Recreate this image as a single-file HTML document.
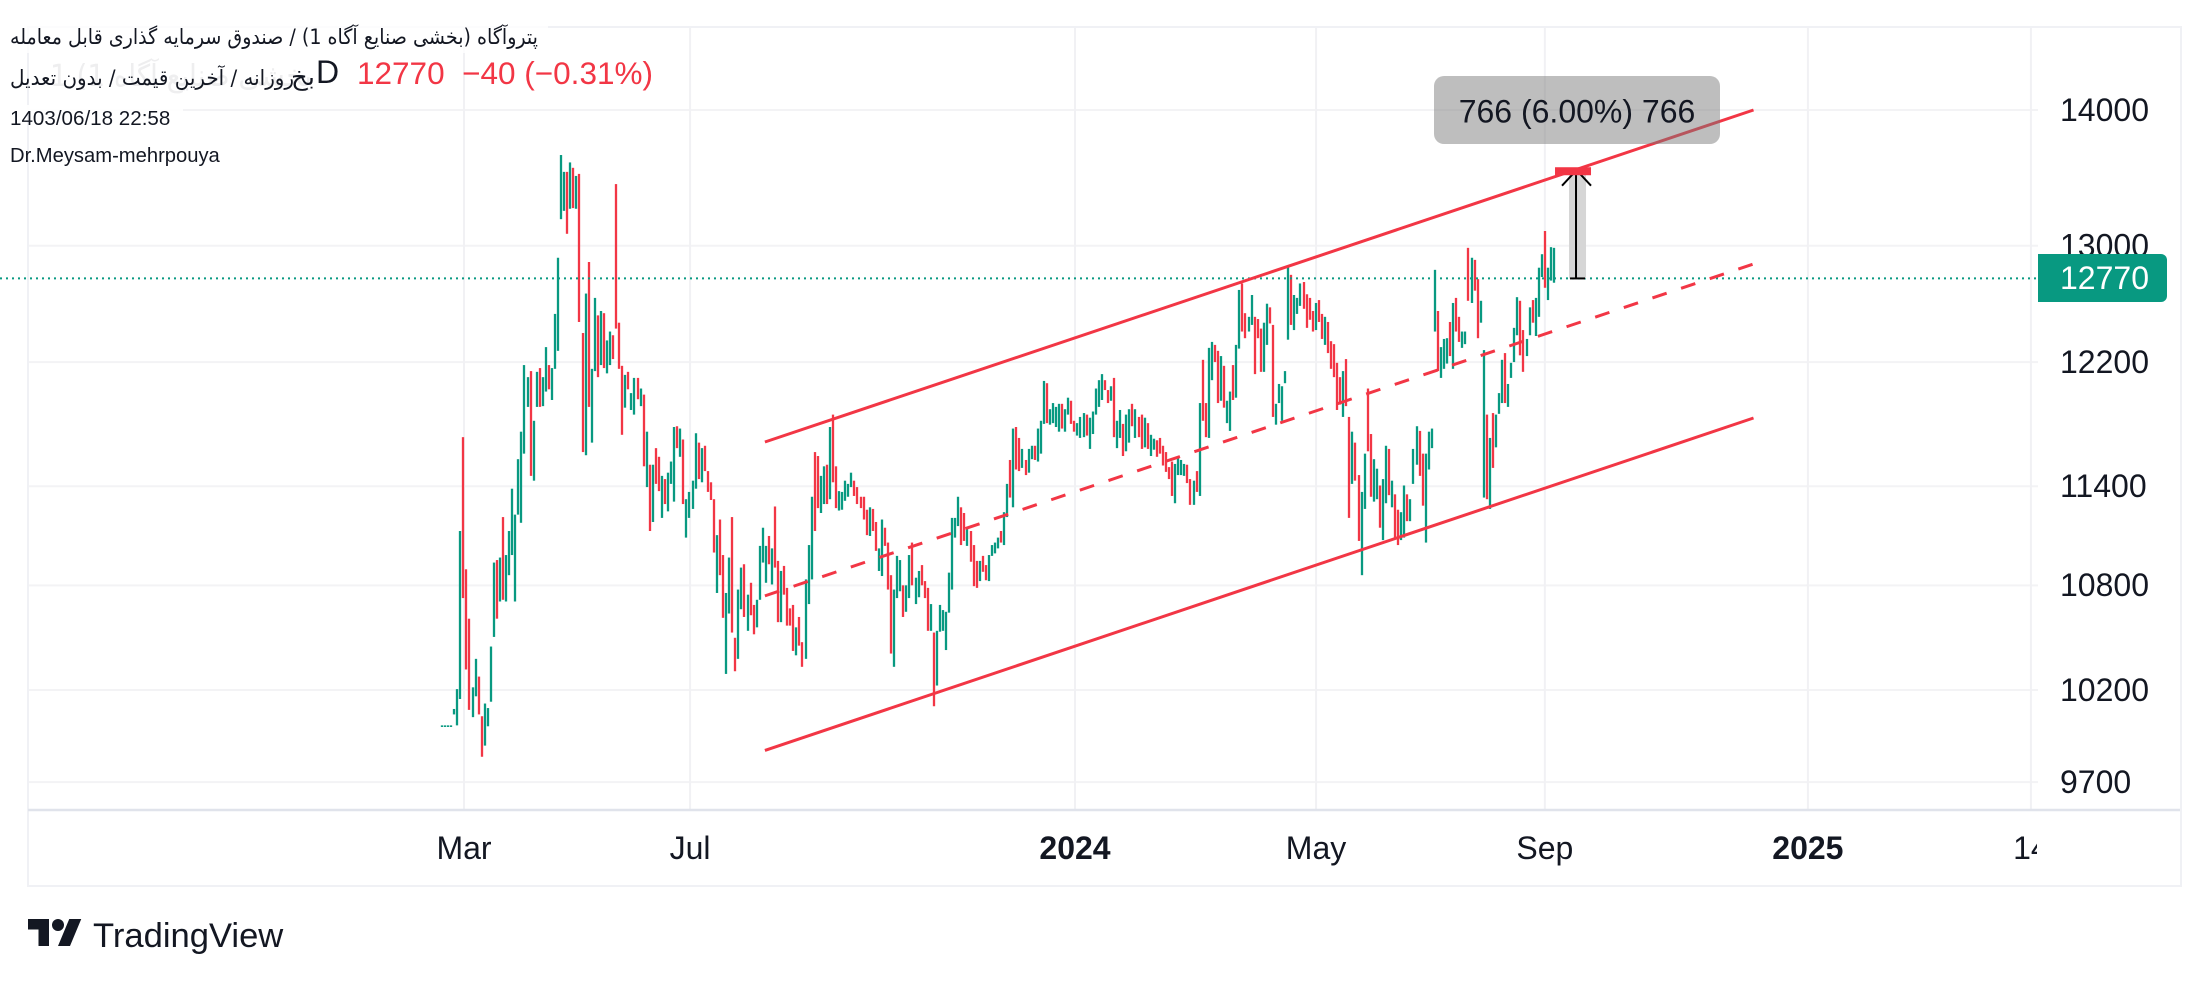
<!DOCTYPE html>
<html lang="en">
<head>
<meta charset="utf-8">
<title>Petroagah daily bar chart</title>
<style>
  html,body{margin:0;padding:0;background:#fff;width:2209px;height:982px;overflow:hidden}
  svg{display:block}
  text{font-family:"Liberation Sans","DejaVu Sans",sans-serif;fill:#131722}
  .fa{font-family:"DejaVu Sans","Liberation Sans",sans-serif}
</style>
</head>
<body>
<svg id="chart" xmlns="http://www.w3.org/2000/svg" width="2209" height="982" viewBox="0 0 2209 982">
  <defs>
    <clipPath id="time-clip"><rect x="28" y="812" width="2009" height="72"/></clipPath>
  </defs>
  <rect x="0" y="0" width="2209" height="982" fill="#ffffff"/>
  <rect x="28" y="27" width="2153" height="859" fill="none" stroke="#f0f1f5" stroke-width="2"/>
  <g id="grid-layer"></g>
  <line x1="28" y1="810" x2="2180" y2="810" stroke="#e0e3eb" stroke-width="2.4"/>
  <g id="bar-layer"></g>
  <g id="last-price-layer"></g>
  <g id="channel-layer"></g>
  <g id="measure-layer"></g>
  <g id="axis-layer"></g>

  <g>
    <rect x="0" y="26" width="548" height="27" fill="#ffffff" opacity="0.8"/>
    <rect x="0" y="105" width="183" height="10" fill="#ffffff" opacity="0.9"/>
    <text class="fa" x="312" y="86" direction="rtl" font-size="30" textLength="262" lengthAdjust="spacingAndGlyphs" style="fill:#eeeeef">بخشی صنایع آگاه 1) 1</text>
    <text class="fa" x="538" y="44" direction="rtl" font-size="21" textLength="528" lengthAdjust="spacingAndGlyphs">پتروآگاه (بخشی صنایع آگاه 1) / صندوق سرمایه گذاری قابل معامله</text>
    <text class="fa" x="315" y="85" direction="rtl" font-size="24" textLength="24" lengthAdjust="spacingAndGlyphs">بخ</text>
    <text class="fa" x="294" y="85" direction="rtl" font-size="21" textLength="284" lengthAdjust="spacingAndGlyphs">روزانه / آخرین قیمت / بدون تعدیل</text>
    <text x="316" y="83" font-size="32">D</text>
    <text x="357" y="84" font-size="31.5" xml:space="preserve" style="fill:#f23645">12770  −40 (−0.31%)</text>
    <text x="10" y="125" font-size="20.6">1403/06/18 22:58</text>
    <text x="10" y="162" font-size="20.2">Dr.Meysam-mehrpouya</text>
  </g>

  <g>
    <g transform="translate(28,913) scale(1.5)" fill="#131722">
      <path d="M14 22H7V11H0V4h14v18zM28 22h-8l7.5-18h8L28 22z"/>
      <circle cx="20" cy="8" r="4"/>
    </g>
    <text x="93" y="947" font-size="34.6">TradingView</text>
  </g>
</svg>

<script>
// Price axis ticks and time axis ticks
const priceTicks = [14000, 13000, 12200, 11400, 10800, 10200, 9700];
const timeLabels = ["Mar", "Jul", "2024", "May", "Sep", "2025", "14"];
const timeTickBars = [7.2, 81.2, 207.2, 286.1, 361, 447.1, 520.1];
const lastPrice = 12770;

// Daily bars, oldest first
const highs = [
10005,10005,10005,10005,10095,10205,11125,11710,10895,10605,
10215,10375,10275,10055,10125,10100,10445,10935,10950,10965,
11210,10980,11125,11385,11225,11570,11745,12180,12100,12140,
11815,12135,12160,12100,12300,12180,12160,12525,12915,13660,
13535,13535,13605,13565,13505,13520,12395,12665,12885,12155,
12635,12515,12545,12530,12345,12405,12380,13445,12465,12175,
12115,12135,11995,12095,12095,12025,11985,11745,11535,11535,
11640,11585,11465,11445,11485,11555,11775,11780,11765,11695,
11320,11365,11435,11735,11675,11640,11655,11495,11425,11320,
11100,11195,10980,10755,10965,11210,10495,10775,10905,10925,
10745,10815,10685,10715,11035,11145,11035,11095,11020,11275,
10945,10885,10915,10785,10665,10685,10555,10615,10470,10835,
11040,11335,11615,11590,11465,11525,11535,11775,11855,11525,
11370,11365,11435,11415,11485,11435,11395,11335,11335,11255,
11270,11260,11180,11020,11195,11145,11055,10860,10775,10975,
10950,10800,10800,10980,11055,10845,10885,10920,10825,10785,
10690,10525,10535,10685,10655,10645,10875,11205,11205,11335,
11270,11235,11145,11125,11040,10945,10945,10975,10920,10980,
11040,11055,11085,11125,11240,11415,11565,11765,11775,11705,
11635,11565,11635,11655,11655,11765,11815,12075,12060,11890,
11930,11905,11925,11925,11890,11965,11945,11815,11800,11840,
11865,11855,11835,11875,12025,12080,12120,12080,12015,12040,
12095,11815,11885,11795,11855,11890,11925,11890,11840,11855,
11835,11800,11725,11700,11690,11705,11655,11615,11520,11555,
11540,11580,11565,11540,11535,11445,11435,11495,11930,12215,
11930,12295,12335,12315,12275,12240,12175,11945,12005,12180,
12315,12690,12735,12530,12505,12655,12505,12490,12425,12465,
12595,12570,12450,11925,12055,12040,12140,12850,12795,12655,
12635,12735,12745,12660,12635,12545,12600,12620,12525,12505,
12470,12340,12320,12195,12100,12140,12220,11840,11745,11675,
11470,11365,11605,12025,11730,11570,11510,11405,11445,11655,
11635,11435,11350,11255,11240,11405,11350,11320,11635,11780,
11750,11605,11605,11745,11765,12830,12545,12300,12355,12360,
12470,12600,12635,12505,12405,12405,12985,12915,12900,12765,
12615,12280,11855,11705,11865,11855,11995,12215,12260,12055,
12195,12430,12640,12615,12415,12355,12570,12620,12635,12845,
12940,13105,12845,12990,12985];

const lows = [
10000,10000,10000,10000,10065,10005,10150,10725,10315,10090,
10050,10165,10065,9835,9895,10000,10135,10500,10605,10705,
10715,10705,10860,10980,10705,11225,11175,11605,11905,11465,
11435,11905,11905,11910,12005,12020,11950,12155,12275,13190,
13250,13085,13265,13270,13265,12470,11615,11595,11905,11675,
12140,12100,12180,12160,12125,12180,12220,12425,12155,11725,
11900,12020,11885,11855,11955,11910,11525,11395,11125,11180,
11415,11370,11205,11290,11245,11415,11305,11640,11585,11290,
11085,11205,11260,11385,11445,11425,11495,11365,11315,10995,
10755,10860,10610,10290,10635,10525,10305,10375,10660,10615,
10535,10625,10515,10555,10715,10935,10815,10925,10805,10905,
10585,10585,10745,10565,10565,10420,10395,10450,10330,10375,
10690,10835,11125,11265,11235,11290,11290,11320,11425,11265,
11250,11255,11310,11335,11395,11340,11290,11265,11195,11100,
11095,11125,11005,10885,10855,11035,10775,10405,10330,10725,
10765,10615,10645,10725,10800,10690,10730,10800,10725,10535,
10535,10110,10225,10530,10535,10425,10640,10775,11085,11155,
11040,11065,11035,10940,10795,10785,10825,10880,10830,10825,
10975,10990,11020,11055,11040,11210,11330,11270,11505,11495,
11515,11470,11485,11570,11565,11555,11605,11795,11800,11790,
11800,11775,11745,11765,11745,11855,11795,11745,11720,11705,
11710,11720,11635,11730,11855,11905,11950,12015,11930,11945,
11710,11640,11705,11590,11620,11675,11780,11705,11710,11635,
11645,11635,11590,11630,11585,11605,11530,11490,11445,11340,
11295,11470,11470,11465,11420,11285,11285,11365,11340,11815,
11710,11705,12080,12200,11930,11945,11900,11800,11750,11950,
11965,12290,12405,12360,12405,12450,12120,12360,12135,12135,
12315,12460,11840,11790,11930,11815,12060,12350,12450,12415,
12525,12580,12560,12430,12485,12405,12415,12470,12355,12315,
12260,12155,12100,11885,11920,11840,11910,11205,11415,11435,
11065,10860,11260,11620,11335,11305,11320,11145,11070,11295,
11345,11270,11085,11040,11070,11085,11185,11185,11415,11535,
11465,11280,11055,11505,11640,12405,12140,12095,12155,12190,
12240,12155,12405,12335,12295,12320,12615,12600,12685,12360,
12465,11330,11320,11260,11515,11645,11860,11930,11930,11905,
12095,12200,12380,12245,12135,12240,12380,12465,12375,12505,
12780,12705,12620,12755,12740];

// u = up bar, d = down bar
const directions = [
"u","u","u","u","u","u","u","d","d","d",
"u","u","d","d","u","u","u","u","d","u",
"d","u","u","u","u","u","u","u","u","d",
"u","u","d","u","u","d","u","u","u","u",
"u","d","u","d","u","d","d","u","d","u",
"u","d","u","d","u","u","d","d","d","d",
"u","d","u","u","d","u","d","u","d","u",
"d","d","u","d","u","u","u","d","u","d",
"u","u","u","u","d","u","d","d","d","d",
"u","d","d","u","u","d","d","u","u","d",
"u","d","d","u","u","u","u","d","u","d",
"d","u","d","d","d","d","u","d","d","u",
"u","u","d","d","u","u","d","u","d","d",
"u","u","u","u","u","d","d","d","d","d",
"u","d","d","u","u","d","d","d","u","u",
"u","d","u","u","d","u","u","d","d","d",
"u","d","u","u","u","u","u","u","u","u",
"d","d","u","d","d","d","u","d","d","u",
"u","u","u","d","u","u","d","u","d","d",
"u","d","u","u","d","u","u","u","d","u",
"u","u","u","d","u","u","d","d","u","u",
"u","d","u","u","u","u","u","d","d","u",
"d","u","u","d","u","u","d","u","d","d",
"u","d","u","u","d","d","d","d","d","d",
"u","u","u","u","d","d","u","d","u","d",
"d","u","u","d","d","u","d","u","u","d",
"u","u","d","d","u","u","d","d","d","u",
"u","d","d","u","u","u","u","u","d","u",
"u","u","d","d","d","d","u","d","d","u",
"d","d","d","d","d","u","d","d","u","d",
"d","u","u","d","d","u","u","d","u","u",
"d","u","d","d","u","u","d","u","u","u",
"d","d","u","u","u","u","d","u","u","u",
"d","u","d","d","u","u","d","u","d","d",
"u","u","d","u","d","u","u","u","d","u",
"u","u","u","d","d","u","u","d","u","u",
"u","d","u","u","u"];

// Trend channel endpoints: bar positions and prices
const channelBars = [105.7, 429.3];
const channelUpper = [11679, 14000];
const channelMiddle = [10738, 12871];
const channelLower = [9869, 11833];

// Measured move
const measureBar = 371.2;
const measureFrom = 12770;
const measureTo = 13536;

const SVG_NS = "http://www.w3.org/2000/svg";
const GREEN = "#089981";
const RED = "#f23645";

// Axis functions
function xOf(bar) { return 442 + bar * 3.055; }
function yOf(price) { return 110 + (Math.log(14000) - Math.log(price)) * 1831.6; }

function make(tag, attrs, parent) {
  const el = document.createElementNS(SVG_NS, tag);
  for (const k in attrs) el.setAttribute(k, attrs[k]);
  parent.appendChild(el);
  return el;
}

const gridLayer = document.getElementById("grid-layer");
const barLayer = document.getElementById("bar-layer");
const lastLayer = document.getElementById("last-price-layer");
const channelLayer = document.getElementById("channel-layer");
const measureLayer = document.getElementById("measure-layer");
const axisLayer = document.getElementById("axis-layer");

// Grid and axis labels
priceTicks.forEach(function (tick) {
  const line = make("line", { x1: 29, x2: 2038, y1: yOf(tick), y2: yOf(tick), stroke: "#f3f3f5", "stroke-width": 2 }, gridLayer);
  
  
  const label = make("text", { x: 2060, y: yOf(tick) + 10.8, "font-size": 32 }, axisLayer);
  label.textContent = String(tick);
  
  
});

timeTickBars.forEach(function (bar, i) {
  const line = make("line", { x1: xOf(bar), x2: xOf(bar), y1: 28, y2: 809, stroke: "#f1f1f4", "stroke-width": 2 }, gridLayer);
  
  
  const isYear = /^\d{4}$/.test(timeLabels[i]);
  const label = make("text", {
    x: xOf(bar), y: 859, "font-size": 32, "text-anchor": "middle",
    "font-weight": isYear ? "700" : "400", "clip-path": "url(#time-clip)"
  }, axisLayer);
  label.textContent = timeLabels[i];
  
  
});

// Bars
highs.forEach(function (high, i) {
  const top = yOf(high);
  const bottom = yOf(lows[i]);
  const rect = make("rect", {
    x: Math.round(xOf(i)) - 1.15,
    y: top,
    width: 2.3,
    height: Math.max(bottom - top, 1.6),
    fill: directions[i] === "u" ? GREEN : RED
  }, barLayer);
  
  
});

// Last price line
const lastLine = make("line", {
  x1: 0, x2: 2038, y1: yOf(lastPrice), y2: yOf(lastPrice),
  stroke: GREEN, "stroke-width": 2, "stroke-dasharray": "2 4"
}, lastLayer);



// Trend channel
function channelLine(prices, name, dash) {
  const attrs = {
    x1: xOf(channelBars[0]), y1: yOf(prices[0]),
    x2: xOf(channelBars[1]), y2: yOf(prices[1]),
    stroke: RED, "stroke-width": 3
  };
  if (dash) attrs["stroke-dasharray"] = dash;
  const line = make("line", attrs, channelLayer);
  
  
}
channelLine(channelUpper, "channel-upper-line");
channelLine(channelMiddle, "channel-middle-line", "15 15.2");
channelLine(channelLower, "channel-lower-line");

// Measured move
const mx = xOf(measureBar);
const mTop = yOf(measureTo);
const mBottom = yOf(measureFrom);
const band = make("rect", { x: mx - 7, y: mTop, width: 17, height: mBottom - mTop, fill: "#d6d6d6" }, measureLayer);


const shaft = make("line", { x1: mx, x2: mx, y1: mBottom, y2: mTop, stroke: "#000", "stroke-width": 2 }, measureLayer);


const base = make("line", { x1: mx - 6, x2: mx + 9, y1: mBottom, y2: mBottom, stroke: "#000", "stroke-width": 2 }, measureLayer);


const head = make("polyline", {
  points: (mx - 14) + "," + (mTop + 14) + " " + (mx - 1) + "," + mTop + " " + (mx + 2) + "," + mTop + " " + (mx + 15) + "," + (mTop + 14),
  fill: "none", stroke: "#000", "stroke-width": 2
}, measureLayer);


const marker = make("rect", { x: mx - 21, y: mTop - 4.5, width: 36, height: 8, fill: RED }, measureLayer);


const box = make("rect", { x: 1434, y: 76, width: 286, height: 68, rx: 10, fill: "#787878", "fill-opacity": 0.48 }, measureLayer);


const boxText = make("text", { x: 1577, y: 122.5, "font-size": 32, "text-anchor": "middle" }, measureLayer);
boxText.textContent = "766 (6.00%) 766";



// Last price tag
const tag = make("path", {
  d: "M2038 254H2161a6 6 0 0 1 6 6V296a6 6 0 0 1 -6 6H2038Z",
  fill: GREEN
}, axisLayer);


const tagText = make("text", { x: 2060, y: yOf(lastPrice) + 10.8, "font-size": 32, style: "fill:#ffffff" }, axisLayer);
tagText.textContent = String(lastPrice);


</script>
</body>
</html>
